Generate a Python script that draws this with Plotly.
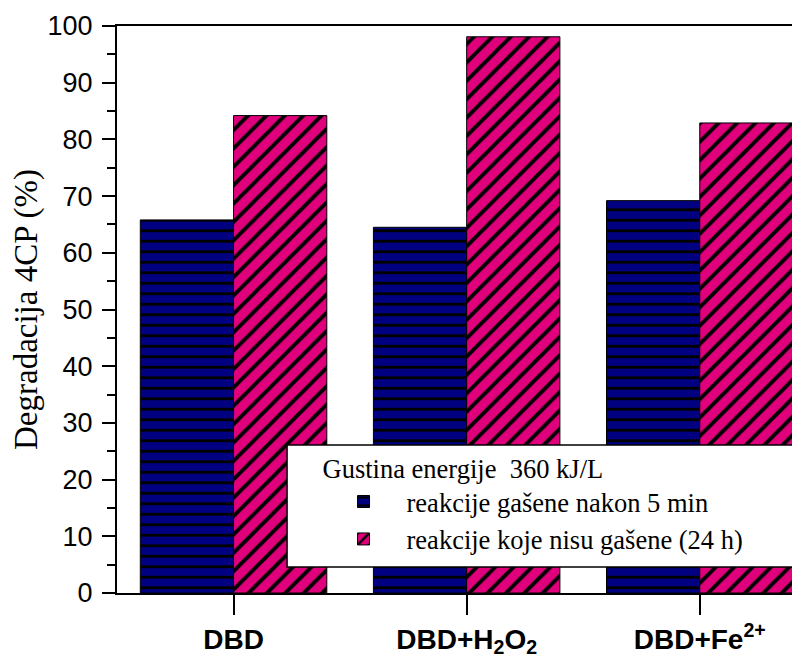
import plotly.graph_objects as go

categories = ["DBD", "DBD+H<sub>2</sub>O<sub>2</sub>", "DBD+Fe<sup>2+</sup>"]
series_names = ["reakcije gašene nakon 5 min", "reakcije koje nisu gašene (24 h)"]
quenched_5min = [65.8, 64.5, 69.2]
unquenched_24h = [84.2, 98.1, 82.9]
legend_title = "Gustina energije  360 kJ/L"
y_title = "Degradacija 4CP (%)"
y_ticks = [0, 10, 20, 30, 40, 50, 60, 70, 80, 90, 100]

NAVY = "#000080"
MAGENTA = "#E0007C"

fig = go.Figure()
fig.add_trace(go.Bar(
    x=categories, y=quenched_5min, name=series_names[0],
    marker=dict(color=NAVY, line=dict(color="black", width=1),
                pattern=dict(shape="-", fgcolor="black", bgcolor=NAVY,
                             size=10.5, solidity=0.27, fillmode="replace")),
))
fig.add_trace(go.Bar(
    x=categories, y=unquenched_24h, name=series_names[1],
    marker=dict(color=MAGENTA, line=dict(color="black", width=1),
                pattern=dict(shape="/", fgcolor="black", bgcolor=MAGENTA,
                             size=13, solidity=0.3, fillmode="replace")),
))

# white legend panel (extends past the right edge like the reference)
fig.add_shape(type="rect", xref="paper", yref="paper",
              x0=0.249, x1=1.05, y0=0.046, y1=0.261,
              fillcolor="white", line=dict(color="black", width=1.5),
              layer="above")

fig.update_layout(
    width=800, height=663,
    margin=dict(l=109, r=8, t=18, b=78, autoexpand=False),
    paper_bgcolor="white", plot_bgcolor="white",
    barmode="group", bargap=0.2, bargroupgap=0,
    showlegend=True,
    legend=dict(
        title=dict(text=legend_title, font=dict(family="Liberation Serif", size=26.5, color="black")),
        font=dict(family="Liberation Serif", size=26.5, color="black"),
        bgcolor="rgba(0,0,0,0)", borderwidth=0,
        x=0.298, y=0.264, xanchor="left", yanchor="top",
        itemwidth=76, tracegroupgap=0,
    ),
    xaxis=dict(
        range=[-0.5, 2.43], automargin=False,
        showline=True, linecolor="black", linewidth=2, mirror=True,
        ticks="outside", ticklen=20, tickwidth=1.5, tickcolor="black",
        ticklabelstandoff=0,
        tickfont=dict(family="Liberation Sans", size=28, color="black", weight="bold"),
        showgrid=False, zeroline=False,
    ),
    yaxis=dict(
        range=[0, 100], tickvals=y_ticks, automargin=False,
        showline=True, linecolor="black", linewidth=2, mirror=False,
        ticks="outside", ticklen=13, tickwidth=1.5, tickcolor="black",
        ticklabelstandoff=4,
        tickfont=dict(family="Liberation Sans", size=27, color="black"),
        minor=dict(dtick=5, ticks="outside", ticklen=8, tickwidth=1.5, tickcolor="black"),
        showgrid=False, zeroline=False,
        title=dict(text=y_title, font=dict(family="Liberation Serif", size=33, color="black"), standoff=10),
    ),
)

fig.write_html("out.html")
